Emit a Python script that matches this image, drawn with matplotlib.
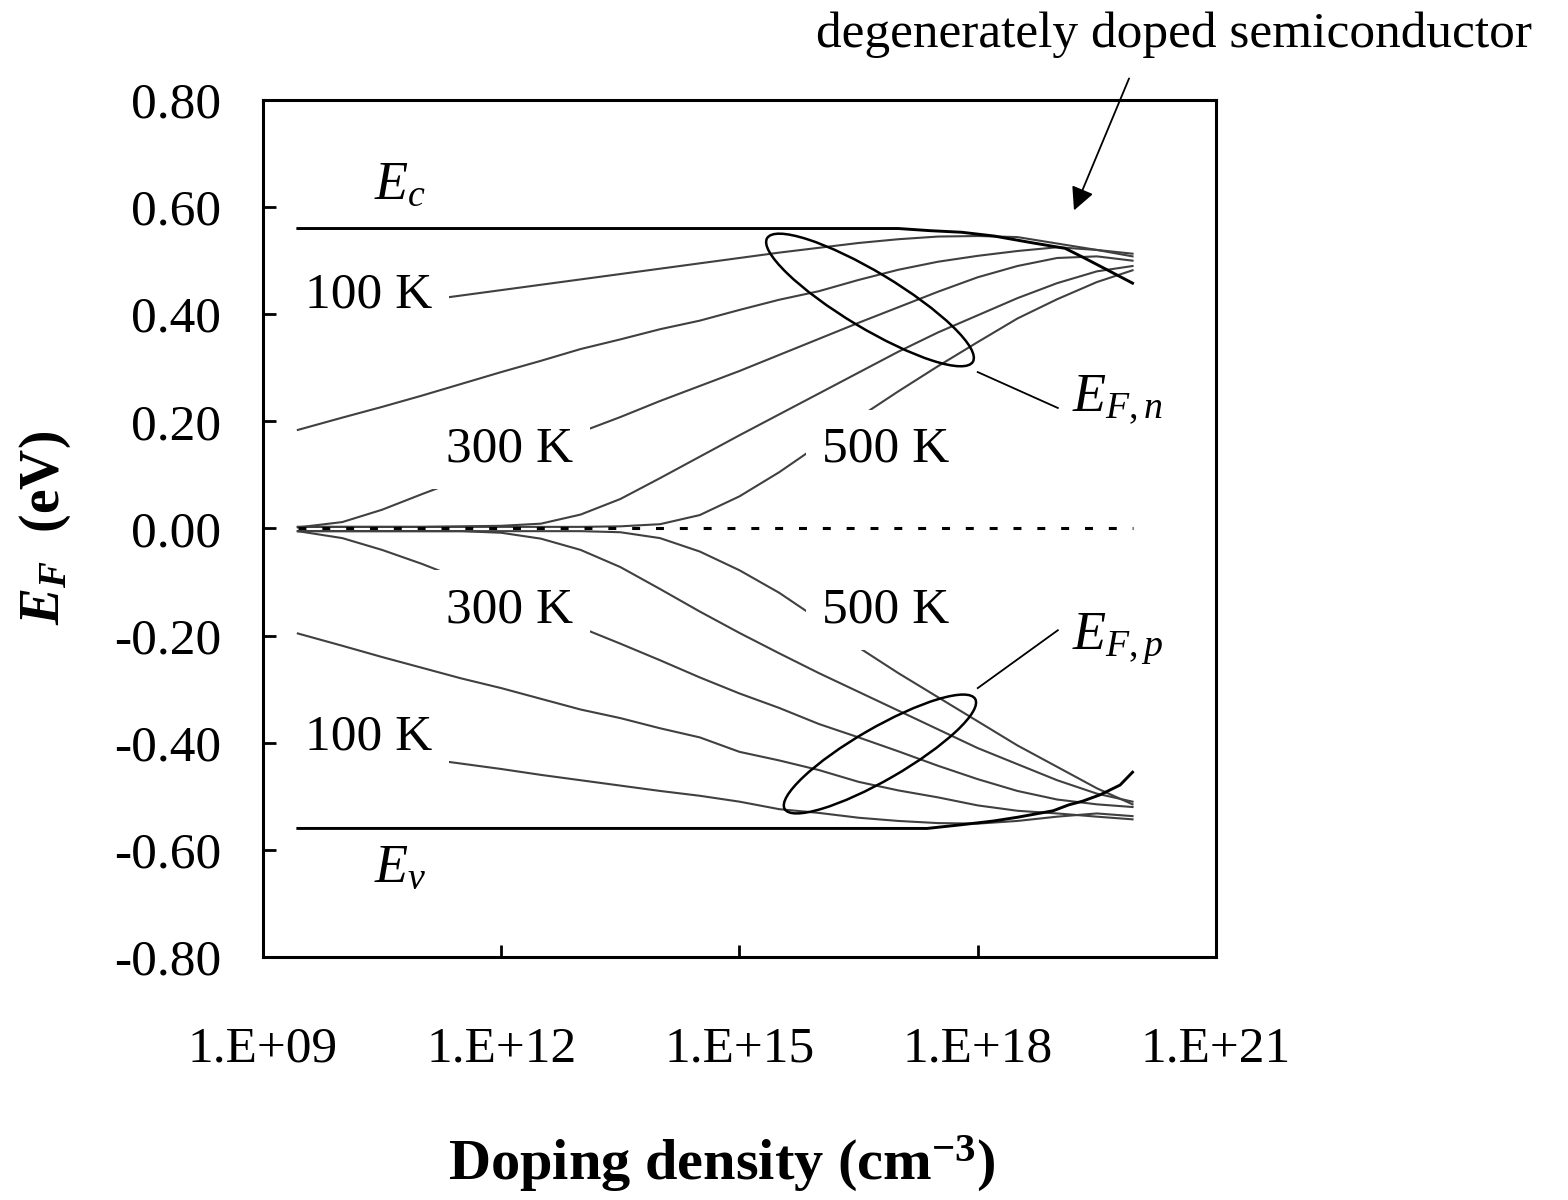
import matplotlib
matplotlib.use("Agg")
import matplotlib.pyplot as plt
from matplotlib.patches import Ellipse
from matplotlib.transforms import ScaledTranslation

plt.rcParams["font.family"] = ["Liberation Serif", "DejaVu Serif"]
plt.rcParams["mathtext.fontset"] = "custom"
plt.rcParams["mathtext.rm"] = "Liberation Serif"
plt.rcParams["mathtext.it"] = "Liberation Serif:italic"
plt.rcParams["mathtext.bf"] = "Liberation Serif:bold"
plt.rcParams["mathtext.bfit"] = "Liberation Serif:italic:bold"

# doping density (cm^-3)
doping = [2.75e9, 1e10, 3.16e10, 1e11, 3.16e11, 1e12, 3.16e12, 1e13, 3.16e13, 1e14,
          3.16e14, 1e15, 3.16e15, 1e16, 3.16e16, 1e17, 3.16e17, 1e18, 3.16e18, 1e19,
          3.16e19, 8.9e19]

# n-type Fermi level (eV, relative to Ei)
n100 = [0.394, 0.405, 0.415, 0.425, 0.435, 0.445, 0.455, 0.465, 0.475, 0.485, 0.495,
        0.505, 0.515, 0.524, 0.533, 0.540, 0.545, 0.546, 0.544, 0.532, 0.520, 0.513]
n200 = [0.184, 0.207, 0.227, 0.248, 0.270, 0.292, 0.313, 0.335, 0.353, 0.372, 0.388,
        0.408, 0.427, 0.443, 0.464, 0.483, 0.498, 0.509, 0.518, 0.525, 0.520, 0.508]
n300 = [0.002, 0.012, 0.035, 0.064, 0.092, 0.121, 0.150, 0.180, 0.208, 0.238, 0.266,
        0.294, 0.324, 0.354, 0.384, 0.413, 0.442, 0.469, 0.490, 0.505, 0.508, 0.500]
n400 = [0.003, 0.003, 0.003, 0.003, 0.004, 0.005, 0.009, 0.026, 0.055, 0.094, 0.134,
        0.174, 0.213, 0.252, 0.291, 0.330, 0.366, 0.398, 0.430, 0.458, 0.480, 0.490]
n500 = [0.003, 0.003, 0.003, 0.003, 0.003, 0.003, 0.003, 0.003, 0.004, 0.008, 0.025,
        0.060, 0.105, 0.156, 0.207, 0.256, 0.303, 0.348, 0.392, 0.428, 0.460, 0.482]

# p-type Fermi level
p100 = [-0.398, -0.409, -0.419, -0.429, -0.439, -0.449, -0.460, -0.470, -0.480, -0.490, -0.499,
        -0.510, -0.524, -0.531, -0.540, -0.546, -0.550, -0.551, -0.546, -0.538, -0.532, -0.537]
p200 = [-0.196, -0.219, -0.240, -0.260, -0.280, -0.298, -0.318, -0.338, -0.354, -0.373, -0.390,
        -0.417, -0.433, -0.451, -0.473, -0.489, -0.502, -0.517, -0.527, -0.532, -0.538, -0.543]
p300 = [-0.005, -0.018, -0.040, -0.066, -0.095, -0.125, -0.155, -0.185, -0.215, -0.246, -0.278,
        -0.308, -0.335, -0.365, -0.390, -0.416, -0.443, -0.468, -0.490, -0.506, -0.515, -0.520]
p400 = [-0.005, -0.005, -0.005, -0.005, -0.005, -0.008, -0.019, -0.040, -0.072, -0.113, -0.155,
        -0.195, -0.233, -0.270, -0.305, -0.340, -0.375, -0.410, -0.440, -0.470, -0.495, -0.510]
p500 = [-0.005, -0.005, -0.005, -0.005, -0.005, -0.005, -0.005, -0.005, -0.007, -0.018, -0.043,
        -0.078, -0.120, -0.170, -0.222, -0.270, -0.315, -0.360, -0.405, -0.445, -0.485, -0.515]

# band edges
ec_doping = [2.75e9, 1e17, 2.5e17, 6.3e17, 1.6e18, 5e18, 1.26e19, 2.2e19, 4e19, 8.9e19]
ec_level = [0.56, 0.56, 0.556, 0.553, 0.546, 0.533, 0.523, 0.505, 0.485, 0.458]
ev_doping = [2.75e9, 2.3e17, 6.3e17, 1.6e18, 3.2e18, 8.9e18, 1.4e19, 2.1e19, 3.5e19, 6.2e19, 8.9e19]
ev_level = [-0.56, -0.56, -0.553, -0.546, -0.539, -0.527, -0.516, -0.509, -0.497, -0.479, -0.455]

zero_doping = [2.75e9, 8.9e19]
zero_level = [0.0, 0.0]

xticks = [1e9, 1e12, 1e15, 1e18, 1e21]
xtick_labels = ["1.E+09", "1.E+12", "1.E+15", "1.E+18", "1.E+21"]
yticks = [-0.8, -0.6, -0.4, -0.2, 0.0, 0.2, 0.4, 0.6, 0.8]

gray = "#404040"
fs = 37

fig = plt.figure(figsize=(15.68, 12), dpi=100, facecolor="white")
ax = fig.add_axes([0.1677, 0.2025, 0.6078, 0.7142])
ax.set_xscale("log")
ax.set_xlim(1e9, 1e21)
ax.set_ylim(-0.8, 0.8)

for series in [n100, n200, n300, n400, n500, p100, p200, p300, p400, p500]:
    ax.plot(doping, series, color=gray, lw=1.5, zorder=2)
ax.plot(ec_doping, ec_level, color="black", lw=2.1, zorder=2.5)
ax.plot(ev_doping, ev_level, color="black", lw=2.1, zorder=2.5)
ax.plot(zero_doping, zero_level, color="black", lw=2.2, dashes=(2.6, 5.2), zorder=2.4)

ax.set_xticks(xticks)
ax.set_xticklabels(xtick_labels)
ax.minorticks_off()
ax.set_yticks(yticks)
ax.set_yticklabels([f"{v:.2f}" for v in yticks])
ax.tick_params(axis="x", direction="in", length=9, width=2, labelsize=fs, pad=50)
ax.tick_params(axis="y", direction="in", length=9, width=2, labelsize=fs, pad=30)
for s in ax.spines.values():
    s.set_linewidth(2.2)

box = dict(facecolor="white", edgecolor="none", pad=12)
for x, y, t in [(2.16e10, 0.436, "100 K"), (1.29e12, 0.147, "300 K"), (7.0e16, 0.147, "500 K"),
                (1.29e12, -0.152, "300 K"), (7.0e16, -0.152, "500 K"), (2.16e10, -0.389, "100 K")]:
    ax.text(x, y, t, fontsize=fs, ha="center", va="center", bbox=box, zorder=4)

ax.text(5.3e10, 0.641, r"$E_c$", fontsize=fs + 2, ha="center", va="center")
ax.text(5.3e10, -0.634, r"$E_v$", fontsize=fs + 2, ha="center", va="center")
ax.text(5.8e19, 0.24, r"$E_{F,n}$", fontsize=fs + 2, ha="center", va="center")
ax.text(5.8e19, -0.208, r"$E_{F,p}$", fontsize=fs + 2, ha="center", va="center")

# ellipses around the crossing regions
up = fig.dpi_scale_trans + ScaledTranslation(4.4e16, 0.4266, ax.transData)
ax.add_patch(Ellipse((0, 0), 2.4, 0.56, angle=-31, transform=up, fill=False,
                     edgecolor="black", lw=1.8, zorder=3))
lo = fig.dpi_scale_trans + ScaledTranslation(5.87e16, -0.421, ax.transData)
ax.add_patch(Ellipse((0, 0), 2.2, 0.52, angle=30, transform=lo, fill=False,
                     edgecolor="black", lw=1.8, zorder=3))
ax.plot([1.0e18, 1.02e19], [0.292, 0.225], color="black", lw=1.3)
ax.plot([1.0e18, 1.02e19], [-0.298, -0.190], color="black", lw=1.3)

ax.annotate("", xy=(1.58e19, 0.589), xytext=(8.3e19, 0.845),
            arrowprops=dict(arrowstyle="-|>", color="black", lw=1.3, mutation_scale=35),
            annotation_clip=False)
fig.text(0.749, 0.971, "degenerately doped semiconductor", fontsize=fs,
         ha="center", va="center")

fig.text(0.029, 0.56, r"$\mathbfit{E}_{\mathbfit{F}}$  (eV)", rotation=90,
         fontsize=40, fontweight="bold", ha="center", va="center")
fig.text(0.4605, 0.03, r"Doping density (cm$^{\mathbf{-3}}$)", fontsize=42,
         fontweight="bold", ha="center", va="center")

fig.savefig("out.png", dpi=100, facecolor="white")
